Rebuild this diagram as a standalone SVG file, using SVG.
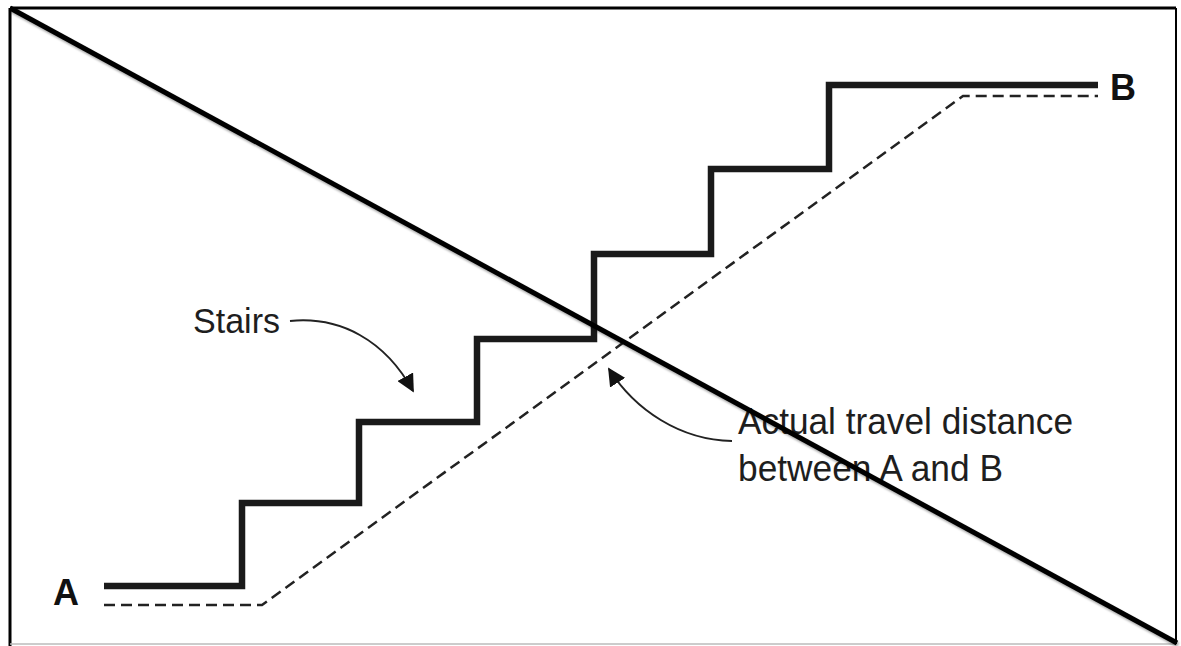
<svg xmlns="http://www.w3.org/2000/svg" width="1181" height="646" viewBox="0 0 1181 646">
<defs>
<marker id="ah" viewBox="0 0 10 10" refX="9" refY="5" markerWidth="18" markerHeight="18" markerUnits="userSpaceOnUse" orient="auto">
<path d="M0,0 L10,5 L0,10 Z" fill="#111"/>
</marker>
<filter id="sh" x="-5%" y="-5%" width="110%" height="110%">
<feDropShadow dx="1" dy="2" stdDeviation="1.2" flood-color="#000" flood-opacity="0.35"/>
</filter>
</defs>
<style>
.lbl{font-family:"Liberation Sans",Arial,sans-serif;fill:#1e1e1e;}
.bold{font-weight:bold;fill:#111;}
.stair{fill:none;stroke:#1a1a1a;stroke-width:6.5;stroke-linejoin:miter;}
.dash{fill:none;stroke:#222;stroke-width:2.5;stroke-dasharray:11,6;}
.callout{fill:none;stroke:#222;stroke-width:2;}
</style>
<rect width="1181" height="646" fill="#fff"/>
<g id="frame">
<line x1="10" y1="8" x2="1176" y2="8" stroke="#000" stroke-width="3"/>
<line x1="10" y1="8" x2="10" y2="646" stroke="#000" stroke-width="3"/>
<line x1="1176" y1="8" x2="1176" y2="644" stroke="#000" stroke-width="2"/>
<line x1="10" y1="644" x2="1176" y2="644" stroke="#bbb" stroke-width="1.5"/>
</g>
<g id="stairs">
<polyline class="stair" points="104,586 242,586 242,503 359,503 359,422 477,422 477,339 594,339 594,254 711,254 711,169 829,169 829,85 1098,85"/>
</g>
<g id="travel-path">
<polyline class="dash" points="104,605 262,605 963,96 1098,96"/>
</g>
<g id="label-A"><text class="lbl bold" x="53" y="605" font-size="36">A</text></g>
<g id="label-B"><text class="lbl bold" x="1110" y="100" font-size="36">B</text></g>
<g id="label-stairs"><text class="lbl" x="193" y="333" font-size="35" textLength="87" lengthAdjust="spacingAndGlyphs">Stairs</text></g>
<g id="label-travel">
<text class="lbl" x="738" y="434" font-size="36" textLength="335" lengthAdjust="spacingAndGlyphs">Actual travel distance</text>
<text class="lbl" x="738" y="481" font-size="36" textLength="265" lengthAdjust="spacingAndGlyphs">between A and B</text>
</g>
<g id="connectors">
<path class="callout" d="M290,321 C340,316 385,340 413,391" marker-end="url(#ah)"/>
<path class="callout" d="M732,441 C680,440 635,410 609,369" marker-end="url(#ah)"/>
</g>
<g id="diagonal">
<line x1="10" y1="8" x2="1177" y2="643" stroke="#000" stroke-width="5" filter="url(#sh)"/>
</g>
</svg>
